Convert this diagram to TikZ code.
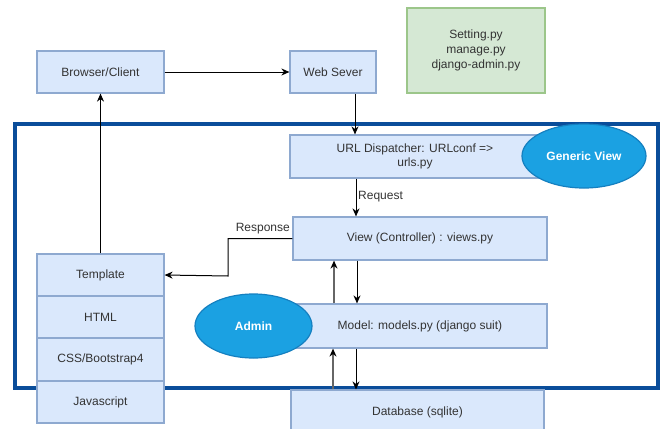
\documentclass[tikz,border=0pt]{standalone}
\usepackage{fontspec}
\setmainfont{Liberation Sans}
\usetikzlibrary{arrows.meta}
\definecolor{boxfill}{HTML}{DAE8FC}
\definecolor{boxline}{HTML}{8EA9D0}
\definecolor{greenfill}{HTML}{D5E8D4}
\definecolor{greenline}{HTML}{9CC68A}
\definecolor{ellfill}{HTML}{1BA1E2}
\definecolor{ellline}{HTML}{1580C0}
\definecolor{framecol}{HTML}{0A4D9A}
\definecolor{txt}{HTML}{333333}
\definecolor{uparrow}{HTML}{666666}
\tikzset{
  every node/.style={font=\fontsize{12}{15}\selectfont, text=txt},
  bluebox/.style={draw=boxline, fill=boxfill, line width=1.2pt, inner sep=0pt, align=center},
  greenbox/.style={draw=greenline, fill=greenfill, line width=1.2pt, inner sep=0pt, align=center},
  ellbox/.style={ellipse, draw=ellline, fill=ellfill, line width=1.2pt, inner sep=0pt, text=white, font=\fontsize{12}{15}\selectfont\bfseries},
  conn/.style={draw=black, line width=1pt, -{Stealth[length=8pt,width=7pt]}},
  upconn/.style={draw=uparrow, line width=1.2pt, -{Stealth[length=8pt,width=7pt,color=black]}},
  lbl/.style={font=\fontsize{12}{15}\selectfont, inner sep=1pt}
}
\usetikzlibrary{shapes.geometric}
\begin{document}
\begin{tikzpicture}[x=1pt,y=-1pt]
\useasboundingbox (0,0) rectangle (665,429);
\clip (0,0) rectangle (665,429);
% frame
\draw[framecol, line width=4pt] (15,124) rectangle (658,388);
% top row
\node[bluebox, minimum width=127pt, minimum height=42pt] (browser) at (100.5,72) {Browser/Client};
\node[bluebox, minimum width=86pt, minimum height=42pt] (web) at (333,72) {Web Sever};
\node[greenbox, minimum width=138pt, minimum height=85pt] (settings) at (476,50.5) {Setting.py\\manage.py\\django-admin.py};
% main column
\node[bluebox, minimum width=250pt, minimum height=43pt] (url) at (415,156.5) {\raisebox{-7pt}{\begin{tabular}{@{}c@{}}URL Dispatcher: URLconf =>\\[-1pt]urls.py\end{tabular}}};
\node[bluebox, minimum width=254pt, minimum height=43pt] (view) at (420,238.5) {View (Controller) : views.py};
\node[bluebox, minimum width=254pt, minimum height=44pt] (model) at (420,326) {Model: models.py (django suit)};
\node[bluebox, minimum width=253pt, minimum height=44pt] (db) at (417.5,412) {Database (sqlite)};
% template stack
\node[bluebox, minimum width=127pt, minimum height=42pt] (template) at (100.5,275) {Template};
\node[bluebox, minimum width=127pt, minimum height=42pt] (html) at (100.5,317) {HTML};
\node[bluebox, minimum width=127pt, minimum height=43pt] (css) at (100.5,359.5) {CSS/Bootstrap4};
\node[bluebox, minimum width=127pt, minimum height=42pt] (js) at (100.5,402) {Javascript};
% ellipses
\node[ellbox, minimum width=124pt, minimum height=64pt] (generic) at (584,156) {Generic View};
\node[ellbox, minimum width=117pt, minimum height=64pt] (admin) at (253.5,326) {Admin};
% connectors
\draw[conn] (browser.east) -- (web.west);
\draw[conn] ([xshift=22pt]web.south) -- ([xshift=22pt]web.south |- url.north);
\draw[conn] ([xshift=-59pt]url.south) -- ([xshift=-59pt]url.south |- view.north);
\node[lbl, anchor=west] (reqlbl) at (357,197) {Request};
\draw[conn] (view.west) -- (228,238.5) -- (228,276) -- (template.east);
\node[lbl, anchor=south east] (resplbl) at (291,235) {Response};
\draw[conn] ([xshift=-63pt]view.south) -- ([xshift=-63pt]view.south |- model.north);
\draw[upconn] ([xshift=-86pt]model.north) -- ([xshift=-86pt]model.north |- view.south);
\draw[conn] ([xshift=-64pt]model.south) -- ([xshift=-64pt]model.south |- db.north);
\draw[upconn] ([xshift=-84.5pt]db.north) -- ([xshift=-84.5pt]db.north |- model.south);
\draw[conn] (template.north -| browser.south) -- (browser.south);
\end{tikzpicture}
\end{document}
